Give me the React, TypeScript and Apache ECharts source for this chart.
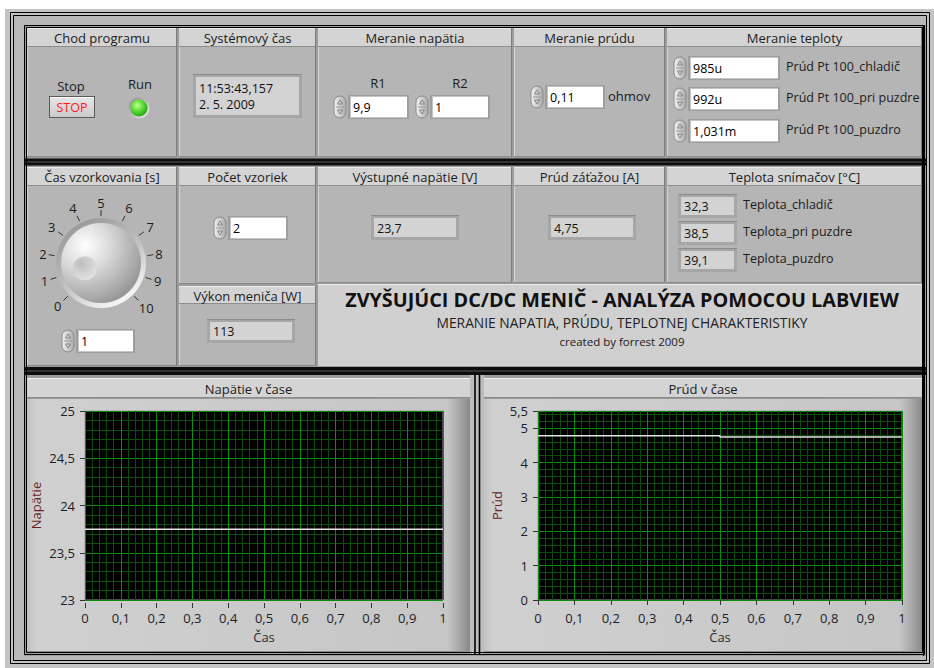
import React, { useEffect, useRef } from "react";
import * as echarts from "echarts";

const W = 934;
const H = 668;
const FONT = "'Open Sans', 'Noto Sans', 'DejaVu Sans', sans-serif";

// ---------- chart data ----------
const timeVoltage = [0, 1];
const voltageValues = [23.75, 23.75];
const timeCurrent = [0, 0.5, 1];
const currentValues = [4.78, 4.74, 4.74];
const voltageRange = [23, 25];
const voltageStep = 0.5;
const currentRange = [0, 5.5];
const currentStep = 1;
const timeRange = [0, 1];
const timeStep = 0.1;

// ---------- panel values ----------
const knobTicks = [0, 1, 2, 3, 4, 5, 6, 7, 8, 9, 10];
const knobAngles = [225, -45];
const sampleTime = 1;
const systemTime = ["11:53:43,157", "2. 5. 2009"];
const dividerLabels = ["R1", "R2"];
const dividerValues = ["9,9", "1"];
const shuntValue = "0,11";
const ptCurrentValues = ["985u", "992u", "1,031m"];
const ptCurrentLabels = ["Prúd Pt 100_chladič", "Prúd Pt 100_pri puzdre", "Prúd Pt 100_puzdro"];
const sampleCount = "2";
const powerValue = "113";
const outputVoltage = "23,7";
const loadCurrent = "4,75";
const temperatureValues = ["32,3", "38,5", "39,1"];
const temperatureLabels = ["Teplota_chladič", "Teplota_pri puzdre", "Teplota_puzdro"];

const HEADER = "#d4d4d4";
const BODY = "#b5b5b5";
const TXT = "#1c1c1c";

function buildGraphics() {
  const els: any[] = [];
  const rect = (x: number, y: number, w: number, h: number, style: any, r?: number) =>
    els.push({ type: "rect", silent: true, shape: r ? { x, y, width: w, height: h, r } : { x, y, width: w, height: h }, style });
  const line = (x1: number, y1: number, x2: number, y2: number, stroke: string, lineWidth = 1) =>
    els.push({ type: "line", silent: true, shape: { x1, y1, x2, y2 }, style: { stroke, lineWidth } });
  const circle = (cx: number, cy: number, r: number, style: any) =>
    els.push({ type: "circle", silent: true, shape: { cx, cy, r }, style });
  const poly = (points: number[][], style: any) => els.push({ type: "polygon", silent: true, shape: { points }, style });
  const text = (x: number, y: number, t: string, size = 13, fill = TXT, align = "center", weight = "normal") =>
    els.push({
      type: "text",
      silent: true,
      x,
      y,
      style: { text: t, fill, font: `${weight} ${size}px ${FONT}`, align, verticalAlign: "middle", textAlign: align, textVerticalAlign: "middle" },
    });
  const strokeRect = (x: number, y: number, w: number, h: number, stroke: string, lw = 1) =>
    rect(x, y, w, h, { fill: "none", stroke, lineWidth: lw });

  const spinner = (sx: number, sy: number, sh: number) => {
    rect(sx, sy, 12, sh, {
      fill: new echarts.graphic.LinearGradient(0, 0, 1, 0, [
        { offset: 0, color: "#f2f2f2" },
        { offset: 1, color: "#a9a9a9" },
      ]),
      stroke: "#8a8a8a",
      lineWidth: 1,
    }, 6);
    const my = sy + sh / 2;
    line(sx + 2, my, sx + 10, my, "#9a9a9a");
    poly([[sx + 6, my - 7], [sx + 3.5, my - 3], [sx + 8.5, my - 3]], { fill: "none", stroke: "#777", lineWidth: 0.8 });
    poly([[sx + 6, my + 7], [sx + 3.5, my + 3], [sx + 8.5, my + 3]], { fill: "none", stroke: "#777", lineWidth: 0.8 });
  };
  const control = (bx: number, by: number, bw: number, bh: number, value: string) => {
    rect(bx - 3, by - 2, bw + 5, bh + 4, { fill: "#9e9e9e" });
    rect(bx - 1, by - 1, bw + 1, bh + 2, { fill: "#c4c4c4" });
    rect(bx, by, bw, bh, { fill: "#ffffff" });
    text(bx + 2, by + bh / 2 + 0.5, value, 12.5, "#000", "left");
    spinner(bx - 17, by - 1, bh + 2);
  };
  const indicator = (x: number, y: number, w: number, h: number, lines: string[]) => {
    rect(x, y, w, h, { fill: "#a6a6a6" });
    line(x, y + 0.5, x + w, y + 0.5, "#8c8c8c");
    rect(x + 3, y + 3, w - 6, h - 6, { fill: "#d3d3d3" });
    const lh = 16;
    const y0 = y + h / 2 - ((lines.length - 1) * lh) / 2;
    lines.forEach((l, i) => text(x + 6, y0 + i * lh + 0.5, l, 12.5, "#111", "left"));
  };
  const section = (x0: number, x1: number, y0: number, y1: number, y2: number, title: string, bodyFill = BODY) => {
    rect(x0, y0, x1 - x0, y1 - y0, { fill: HEADER });
    line(x0, y0 + 0.5, x1, y0 + 0.5, "#eeeeee");
    line(x0, y1 - 0.5, x1, y1 - 0.5, "#8e8e8e");
    rect(x0, y1, x1 - x0, y2 - y1, { fill: bodyFill });
    line(x0 + 0.5, y1, x0 + 0.5, y2, "#d6d6d6");
    line(x1 - 0.5, y0, x1 - 0.5, y2, "#7c7c7c");
    line(x0, y2 - 0.5, x1, y2 - 0.5, "#8a8a8a");
    text((x0 + x1) / 2, (y0 + y1) / 2 + 0.5, title, 13);
  };

  // page background and outer frame
  rect(5, 9, W - 5, H - 9, { fill: "#c3c3c3" });
  rect(14, 16, 912, 645, { fill: "#b9b9b9" });
  strokeRect(10.5, 12.5, 919, 651, "#000");
  strokeRect(13.5, 15.5, 913, 645, "#000");

  // main block background
  rect(24, 25, 902, 631, { fill: "#9c9c9c" });

  // row 1
  const r1 = [28, 47, 157];
  section(27, 177, r1[0], r1[1], r1[2], "Chod programu");
  section(179, 316, r1[0], r1[1], r1[2], "Systémový čas");
  section(318, 512, r1[0], r1[1], r1[2], "Meranie napätia");
  section(514, 665, r1[0], r1[1], r1[2], "Meranie prúdu");
  section(667, 922, r1[0], r1[1], r1[2], "Meranie teploty");

  // row 2
  const r2 = [167, 186, 366];
  section(27, 177, r2[0], r2[1], r2[2], "Čas vzorkovania [s]");
  section(179, 316, r2[0], r2[1], 284, "Počet vzoriek");
  section(179, 316, 286, 304, r2[2], "Výkon meniča [W]");
  section(318, 512, r2[0], r2[1], 283, "Výstupné napätie [V]");
  section(514, 665, r2[0], r2[1], 283, "Prúd záťažou [A]");
  section(667, 922, r2[0], r2[1], 283, "Teplota snímačov [°C]");
  rect(318, 284, 604, 82, { fill: "#d0d0d0" });
  line(318, 284.5, 922, 284.5, "#e8e8e8");

  // black separators
  rect(24, 158.5, 902, 7, { fill: "#0c0c0c" });
  line(24, 162, 926, 162, "#5a5a5a");
  rect(24, 367, 902, 8, { fill: "#0c0c0c" });
  line(24, 371, 926, 371, "#5a5a5a");

  // row 3 chart panels
  const chartPanel = (x0: number, x1: number, title: string) => {
    rect(x0, 378, x1 - x0, 20, { fill: HEADER });
    line(x0, 378.5, x1, 378.5, "#f0f0f0");
    line(x0, 397.5, x1, 397.5, "#8a8a8a");
    text((x0 + x1) / 2, 388.5, title, 13);
    rect(x0, 398, x1 - x0, 255, {
      fill: new echarts.graphic.LinearGradient(0, 0, 1, 0, [
        { offset: 0, color: "#c2c2c2" },
        { offset: 0.02, color: "#d0d0d0" },
        { offset: 0.95, color: "#c6c6c6" },
        { offset: 0.975, color: "#a9a9a9" },
        { offset: 1, color: "#8a8a8a" },
      ]),
    });
    line(x0, 398.5, x1, 398.5, "#9a9a9a");
    line(x0, 651.5, x1, 651.5, "#8a8a8a");
  };
  rect(470, 375, 14, 280, { fill: "#bdbdbd" });
  chartPanel(27, 470, "Napätie v čase");
  chartPanel(484, 922, "Prúd v čase");
  line(475, 375, 475, 655, "#000", 1.6);
  line(479.5, 375, 479.5, 655, "#000", 1.6);

  // inner double frame
  strokeRect(24.5, 25.5, 900, 629, "#000");
  strokeRect(26.5, 27.5, 896, 625, "#000");
  line(923.5, 25, 923.5, 656, "#000");

  // ---- Chod programu ----
  text(71, 86, "Stop", 13);
  rect(49, 96, 46, 22, { fill: "#5a5a5a" });
  rect(50, 97, 44, 20, {
    fill: new echarts.graphic.LinearGradient(0, 0, 0, 1, [
      { offset: 0, color: "#e6e6e6" },
      { offset: 1, color: "#cbcbcb" },
    ]),
  });
  line(50, 97.5, 94, 97.5, "#ffffff");
  text(72, 107.5, "STOP", 12.5, "#ff1a1a");
  text(140, 84, "Run", 13);
  circle(139, 108, 10.5, {
    fill: new echarts.graphic.LinearGradient(0, 0, 1, 1, [
      { offset: 0, color: "#8a8a8a" },
      { offset: 1, color: "#f2f2f2" },
    ]),
  });
  circle(139, 108, 8.5, {
    fill: new echarts.graphic.RadialGradient(0.4, 0.35, 0.7, [
      { offset: 0, color: "#c8ff9a" },
      { offset: 0.45, color: "#5ee23a" },
      { offset: 1, color: "#22a010" },
    ]),
  });

  // ---- Systémový čas ----
  indicator(193, 74, 109, 44, systemTime);

  // ---- Meranie napätia ----
  text(378, 83, dividerLabels[0], 13);
  text(460, 83, dividerLabels[1], 13);
  control(351, 97, 56, 20, dividerValues[0]);
  control(433, 97, 55, 20, dividerValues[1]);

  // ---- Meranie prúdu ----
  control(548, 87, 55, 20, shuntValue);
  text(608, 96, "ohmov", 13, TXT, "left");

  // ---- Meranie teploty ----
  const ptRows = [58, 89, 121];
  ptRows.forEach((y, i) => {
    control(691, y, 87, 20, ptCurrentValues[i]);
    text(786, y + 8, ptCurrentLabels[i], 12.5, TXT, "left");
  });

  // ---- Čas vzorkovania: knob ----
  const kcx = 101;
  const kcy = 263;
  circle(kcx, kcy, 45, {
    fill: new echarts.graphic.LinearGradient(0, 0, 0.6, 1, [
      { offset: 0, color: "#8e8e8e" },
      { offset: 0.6, color: "#c0c0c0" },
      { offset: 1, color: "#f4f4f4" },
    ]),
  });
  circle(kcx, kcy, 40, {
    fill: new echarts.graphic.RadialGradient(0.3, 0.28, 0.85, [
      { offset: 0, color: "#ffffff" },
      { offset: 0.35, color: "#dcdcdc" },
      { offset: 0.8, color: "#a6a6a6" },
      { offset: 1, color: "#8a8a8a" },
    ]),
  });
  const span = knobAngles[0] - knobAngles[1];
  const valAngle = ((knobAngles[0] - (span * (sampleTime - knobTicks[0])) / (knobTicks[knobTicks.length - 1] - knobTicks[0])) * Math.PI) / 180;
  circle(kcx + 17 * Math.cos(valAngle), kcy - 17 * Math.sin(valAngle), 12, {
    fill: new echarts.graphic.RadialGradient(0.35, 0.3, 0.8, [
      { offset: 0, color: "#bfbfbf" },
      { offset: 1, color: "#e4e4e4" },
    ]),
  });
  knobTicks.forEach((v, i) => {
    const a = ((knobAngles[0] - (span * i) / (knobTicks.length - 1)) * Math.PI) / 180;
    const s = String(v);
    const rho = 54 + s.length * 3.7 * Math.abs(Math.cos(a)) + 6.5 * Math.abs(Math.sin(a));
    text(kcx + rho * Math.cos(a), kcy - rho * Math.sin(a), s, 13);
  });
  control(79, 331, 54, 20, String(sampleTime));

  // ---- Počet vzoriek / Výkon ----
  control(231, 218, 55, 20, sampleCount);
  indicator(207, 319, 88, 24, [powerValue]);

  // ---- Výstupné napätie / Prúd záťažou ----
  indicator(371, 215, 88, 25, [outputVoltage]);
  indicator(548, 215, 88, 25, [loadCurrent]);

  // ---- Teplota snímačov ----
  const tRows = [194, 221, 248];
  tRows.forEach((y, i) => {
    indicator(678, y, 59, 24, [temperatureValues[i]]);
    text(743, y + 10, temperatureLabels[i], 12.5, TXT, "left");
  });

  // ---- title ----
  text(622, 299, "ZVYŠUJÚCI DC/DC MENIČ - ANALÝZA POMOCOU LABVIEW", 19.8, "#111", "center", "bold");
  text(622, 322, "MERANIE NAPATIA, PRÚDU, TEPLOTNEJ CHARAKTERISTIKY", 13.8, "#222");
  text(622, 341, "created by forrest 2009", 11.5, "#1a1a1a");

  return els;
}

const fmt = (v: number) => String(Math.round(v * 100) / 100).replace(".", ",");

function xAxisOf(gridIndex: number) {
  return {
    type: "value",
    gridIndex,
    min: timeRange[0],
    max: timeRange[1],
    interval: timeStep,
    offset: 3,
    z: 10,
    name: "Čas",
    nameLocation: "middle",
    nameGap: 27,
    nameTextStyle: { color: "#2a2a2a", fontSize: 13, fontFamily: FONT },
    axisLine: { show: false },
    axisTick: { show: true, length: 5, lineStyle: { color: "#333" } },
    axisLabel: { color: "#1d1d2a", fontSize: 13, fontFamily: FONT, margin: 8, formatter: fmt },
    splitLine: { show: true, lineStyle: { color: "#0a8c0a", width: 1 } },
    minorTick: { show: false, splitNumber: 5 },
    minorSplitLine: { show: true, lineStyle: { color: "#0b4d0b", width: 1 } },
  };
}

function yAxisOf(gridIndex: number, range: number[], step: number, name: string, nameGap: number) {
  return {
    type: "value",
    gridIndex,
    min: range[0],
    max: range[1],
    interval: step,
    offset: 3,
    z: 10,
    name,
    nameLocation: "middle",
    nameGap,
    nameTextStyle: { color: "#6a1f1f", fontSize: 13, fontFamily: FONT },
    axisLine: { show: false },
    axisTick: { show: true, length: 5, lineStyle: { color: "#333" } },
    axisLabel: { color: "#1d1d2a", fontSize: 13, fontFamily: FONT, margin: 7, formatter: fmt },
    splitLine: { show: true, lineStyle: { color: "#0a8c0a", width: 1 } },
    minorTick: { show: false, splitNumber: 5 },
    minorSplitLine: { show: true, lineStyle: { color: "#0b4d0b", width: 1 } },
  };
}

function buildOption(): any {
  return {
    animation: false,
    backgroundColor: "#ffffff",
    graphic: { elements: buildGraphics() },
    grid: [
      { left: 85, top: 411, width: 358, height: 189, show: true, backgroundColor: "#000", borderColor: "#9a9a9a", borderWidth: 1, z: 10 },
      { left: 538, top: 411, width: 364, height: 189, show: true, backgroundColor: "#000", borderColor: "#9a9a9a", borderWidth: 1, z: 10 },
    ],
    xAxis: [xAxisOf(0), xAxisOf(1)],
    yAxis: [yAxisOf(0, voltageRange, voltageStep, "Napätie", 40), yAxisOf(1, currentRange, currentStep, "Prúd", 32)],
    series: [
      {
        type: "gauge",
        center: [101, 263],
        radius: 53,
        startAngle: knobAngles[0],
        endAngle: knobAngles[1],
        min: knobTicks[0],
        max: knobTicks[knobTicks.length - 1],
        splitNumber: knobTicks.length - 1,
        z: 12,
        axisLine: { show: false, lineStyle: { width: 0 } },
        splitLine: { show: true, length: 6, distance: 0, lineStyle: { color: "#333", width: 1 } },
        axisTick: { show: false },
        axisLabel: { show: false },
        pointer: { show: false },
        anchor: { show: false },
        title: { show: false },
        detail: { show: false },
        data: [{ value: sampleTime }],
      },
      {
        type: "line",
        xAxisIndex: 0,
        yAxisIndex: 0,
        z: 12,
        symbol: "none",
        lineStyle: { color: "#e2e2e2", width: 1.5 },
        data: timeVoltage.map((t, i) => [t, voltageValues[i]]),
      },
      {
        type: "line",
        xAxisIndex: 1,
        yAxisIndex: 1,
        z: 12,
        step: "end",
        symbol: "none",
        lineStyle: { color: "#e2e2e2", width: 1.5 },
        data: timeCurrent.map((t, i) => [t, currentValues[i]]),
      },
    ],
  };
}

export default function App() {
  const ref = useRef<HTMLDivElement>(null);
  useEffect(() => {
    const chart = echarts.init(ref.current!, undefined, { renderer: "svg", width: W, height: H });
    chart.setOption(buildOption());
    return () => chart.dispose();
  }, []);
  return <div ref={ref} style={{ position: "absolute", left: 0, top: 0, width: W, height: H }} />;
}
